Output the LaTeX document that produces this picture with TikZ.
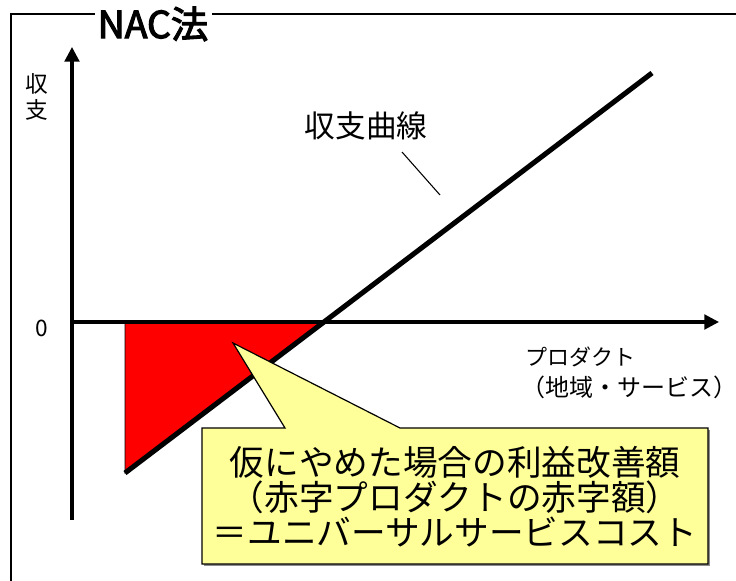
\documentclass[tikz,border=0pt]{standalone}
\usepackage{fontspec}
\newfontfamily\jp{Noto Sans CJK JP}
\newfontfamily\jpb[FakeBold=3]{Noto Sans CJK JP}
\usetikzlibrary{arrows.meta,calc}
\definecolor{callfill}{HTML}{FFFF99}
\tikzset{
  axis/.style={line width=2.3pt,-{Triangle[length=11pt,width=11pt]}},
  curve/.style={line width=3.8pt},
  lbl/.style={inner sep=0pt,font=\jp},
  frame/.style={line width=0.9pt},
}
\begin{document}
\begin{tikzpicture}[x=0.75pt,y=-0.75pt]
\useasboundingbox (0,0) rectangle (736,581);
% frame
\coordinate (f1) at (11,590);
\coordinate (f2) at (11,14);
\coordinate (f3) at (95,14);
\coordinate (f4) at (212,14);
\coordinate (f5) at (745,14);
\draw[frame] (f1) -- (f2) -- (f3);
\draw[frame] (f4) -- (f5);
\node[lbl,font=\jpb\fontsize{28}{30}\selectfont] (title) at (153,24) {NAC法};
% red area
\coordinate (r1) at (125,322);
\coordinate (r2) at (125,473);
\coordinate (r3) at (323,322);
\fill[red,draw=black,line width=0.6pt] (r1) -- (r2) -- (r3) -- cycle;
% axes
\coordinate (o) at (72,322);
\coordinate (ybot) at (72,520);
\coordinate (ytop) at (72,47);
\coordinate (xend) at (719,322);
\draw[axis] (ybot) -- (ytop);
\draw[axis] (o) -- (xend);
% curve
\coordinate (c2) at (652,73);
\draw[curve] (r2) -- (c2);
% labels
\node[lbl,font=\jp\fontsize{17}{20}\selectfont] (zero) at (42,328) {0};
\node[lbl,font=\jp\fontsize{17}{20}\selectfont,align=center] (ylab) at (37,97) {収\\[0pt]支};
\node[lbl,font=\jp\fontsize{23}{26}\selectfont] (clab) at (366,126) {収支曲線};
\coordinate (lead1) at (402,152);
\coordinate (lead2) at (440,195);
\draw[line width=0.8pt] (lead1) -- (lead2);
\node[lbl,font=\jp\fontsize{16.5}{19}\selectfont] (xlab1) at (580,357) {プロダクト};
\node[lbl,font=\jp\fontsize{18}{20}\selectfont] (xlab2) at (629,387) {（地域・サービス）};
% callout
\coordinate (k1) at (202,428);
\coordinate (k2) at (285,428);
\coordinate (tip) at (233,343);
\coordinate (k3) at (400,428);
\coordinate (k4) at (708,428);
\coordinate (k5) at (708,564);
\coordinate (k6) at (202,564);
\fill[black!45] ($(k1)+(2,2)$) -- ($(k4)+(2,2)$) -- ($(k5)+(2,2)$) -- ($(k6)+(2,2)$) -- cycle;
\draw[fill=callfill,line width=0.9pt] (k1) -- (k2) -- (tip) -- (k3) -- (k4) -- (k5) -- (k6) -- cycle;
\node[lbl,font=\jp\fontsize{26}{26.3}\selectfont,align=center] (ctext) at (455,497) {仮にやめた場合の利益改善額\\（赤字プロダクトの赤字額）\\＝ユニバーサルサービスコスト};
\end{tikzpicture}
\end{document}
